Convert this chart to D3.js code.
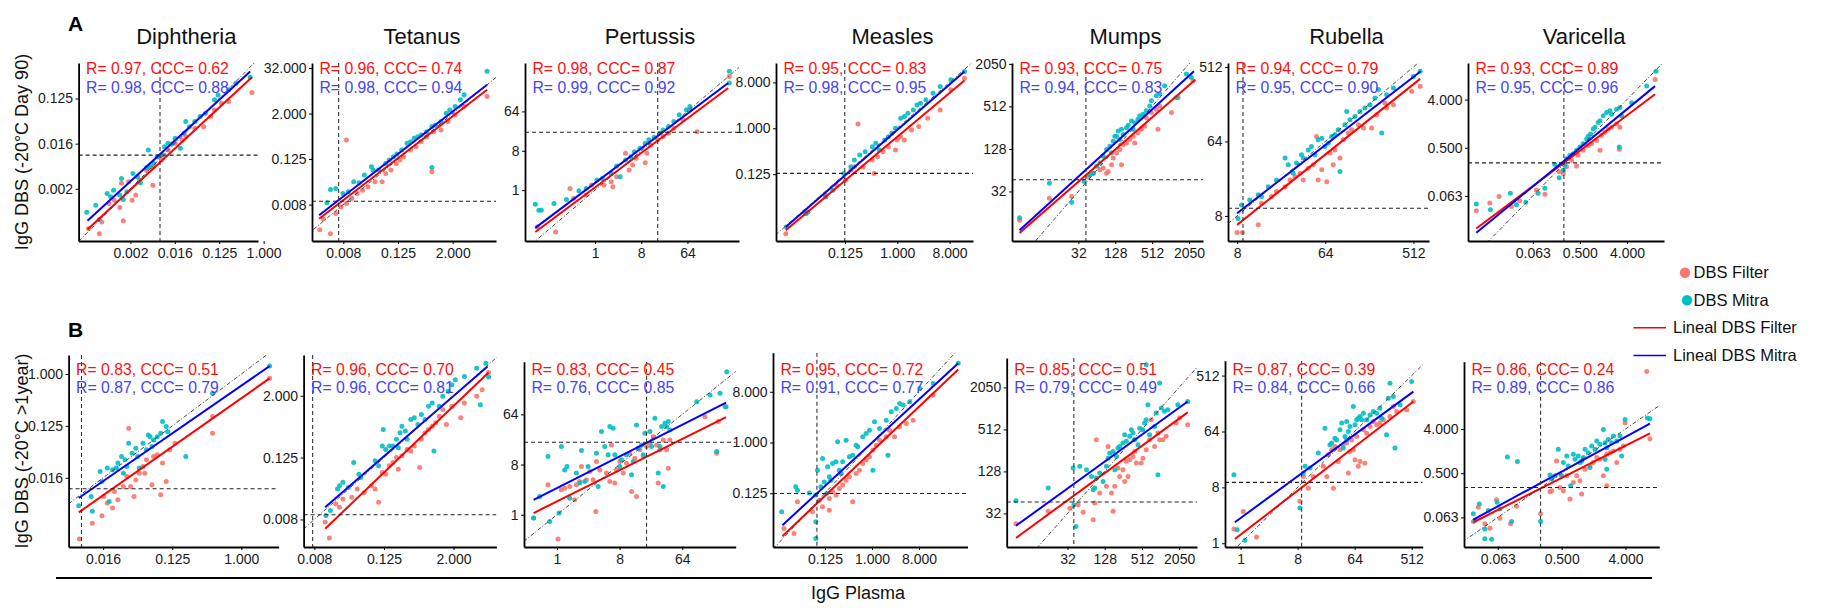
<!DOCTYPE html>
<html>
<head>
<meta charset="utf-8">
<script src="https://cdn.jsdelivr.net/npm/d3@7"></script>
<style>
body{margin:0;background:#fff;}
text{font-family:"Liberation Sans",Arial,sans-serif;}
</style>
</head>
<body>
<svg id="fig" width="1822" height="608"></svg>
<script>
/*
IgG plasma vs IgG DBS, 7 antigens, two storage conditions.
all values are log2(IgG): [plasma, DBS]
 */

var antigens=["Diphtheria","Tetanus","Pertussis","Measles","Mumps","Rubella","Varicella"];
var rowTags=["A","B"];
var rowYTitles=["IgG DBS (-20\u00B0C Day 90)","IgG DBS (-20\u00B0C >1year)"];
var xTitle="IgG Plasma";
var seriesNames=["DBS Filter","DBS Mitra"];
var lineNames=["Lineal DBS Filter","Lineal DBS Mitra"];

// tick positions (log2) and printed labels
var xTicksA=[[-9,-6,-3,0],[-7,-3,1],[0,3,6],[-3,0,3],[5,7,9,11],[3,6,9],[-4,-1,2]];
var yTicksA=[[-9,-6,-3],[-7,-3,1,5],[0,3,6],[-3,0,3],[5,7,9,11],[3,6,9],[-4,-1,2]];
var xTicksB=[[-6,-3,0],[-7,-3,1],[0,3,6],[-3,0,3],[5,7,9,11],[0,3,6,9],[-4,-1,2]];
var yTicksB=[[-6,-3,0],[-7,-3,1],[0,3,6],[-3,0,3],[5,7,9,11],[0,3,6,9],[-4,-1,2]];
var decLabels={"-9":"0.002","-7":"0.008","-6":"0.016","-4":"0.063","-3":"0.125","-1":"0.500","0":"1.000","1":"2.000","2":"4.000","3":"8.000","5":"32.000"};
var intLabels={"0":"1","3":"8","5":"32","6":"64","7":"128","9":"512","11":"2050"};
var integerStyle=[false,false,true,false,true,true,false];

// axis limits (log2)
var xDomA=[[-12.5,-0.38],[-9.29,4.17],[-4.55,9.35],[-6.95,4.34],[1.4,11.76],[2.69,9.53],[-8.13,4.36]];
var yDomA=[[-12.47,-0.64],[-10.2,5.44],[-3.88,9.69],[-7.37,4.27],[2.67,11.04],[1.99,9.16],[-6.81,4.28]];
var xDomB=[[-7.5,1.62],[-7.62,3.46],[-1.58,8.56],[-6.31,6.09],[1.73,11.96],[-0.82,9.58],[-5.59,3.59]];
var yDomB=[[-10.0,1.1],[-8.78,3.63],[-1.93,9.15],[-6.18,5.31],[3.4,12.4],[-0.2,9.8],[-6.01,6.57]];

// positivity cut-offs [plasma, DBS]
var cutA=[[-7.0,-6.76],[-7.34,-6.71],[4.07,4.41],[-3.01,-2.95],[5.41,5.55],[3.2,3.31],[-2.02,-1.94]];
var cutB=[[-6.94,-6.63],[-7.1,-6.7],[4.29,4.33],[-3.51,-3.02],[5.34,5.54],[3.21,3.27],[-1.99,-1.97]];

// fitted lines [x1,y1,x2,y2]
var fitA_filter=[[-11.9,-11.7,-0.79,-1.58],[-8.77,-8.24,3.52,3.09],[-3.88,-3.19,8.65,7.78],[-6.39,-6.67,3.85,3.13],[1.81,3.05,11.34,10.25],[3.0,2.64,9.23,8.52],[-7.6,-6.03,3.79,2.33]];
var fitA_mitra=[[-11.9,-11.13,-0.91,-1.2],[-8.77,-7.94,3.52,3.53],[-3.88,-2.88,8.65,8.16],[-6.39,-6.46,3.85,3.72],[1.81,3.18,11.27,10.65],[3.0,3.11,9.25,8.83],[-7.6,-6.3,3.79,2.84]];
var fitB_filter=[[-7.06,-8.0,1.23,-0.25],[-6.38,-7.6,3.01,2.5],[-1.12,0.1,8.1,5.83],[-5.71,-5.54,5.5,4.32],[2.23,3.83,11.46,9.81],[-0.3,0.23,9.09,7.61],[-5.15,-4.33,3.15,1.7]];
var fitB_mitra=[[-7.06,-7.17,1.23,0.46],[-6.38,-6.21,2.95,2.88],[-1.12,0.89,8.1,6.7],[-5.71,-4.89,5.5,4.68],[2.23,4.41,11.46,10.33],[-0.3,1.13,9.09,8.14],[-5.15,-4.15,3.15,2.37]];

var statsA_filter=["R= 0.97, CCC= 0.62","R= 0.96, CCC= 0.74","R= 0.98, CCC= 0.87","R= 0.95, CCC= 0.83","R= 0.93, CCC= 0.75","R= 0.94, CCC= 0.79","R= 0.93, CCC= 0.89"];
var statsA_mitra=["R= 0.98, CCC= 0.88","R= 0.98, CCC= 0.94","R= 0.99, CCC= 0.92","R= 0.98, CCC= 0.95","R= 0.94, CCC= 0.83","R= 0.95, CCC= 0.90","R= 0.95, CCC= 0.96"];
var statsB_filter=["R= 0.83, CCC= 0.51","R= 0.96, CCC= 0.70","R= 0.83, CCC= 0.45","R= 0.95, CCC= 0.72","R= 0.85, CCC= 0.51","R= 0.87, CCC= 0.39","R= 0.86, CCC= 0.24"];
var statsB_mitra=["R= 0.87, CCC= 0.79","R= 0.96, CCC= 0.81","R= 0.76, CCC= 0.85","R= 0.91, CCC= 0.77","R= 0.79, CCC= 0.49","R= 0.84, CCC= 0.66","R= 0.89, CCC= 0.86"];

// ---- points, row A (Day 90) ----
var diphA_filter=[[-11.83,-11.64],[-11.1,-11.98],[-10.93,-11.2],[-10.45,-9.98],[-10.09,-9.76],[-9.72,-10.24],[-9.6,-8.64],[-9.48,-11.13],[-9.12,-8.53],[-8.88,-9.76],[-8.64,-9.42],[-8.4,-8.42],[-7.91,-7.76],[-7.48,-8.76],[-7.43,-7.53],[-7.07,-6.87],[-6.9,-7.09],[-6.46,-6.42],[-5.98,-5.98],[-5.5,-5.76],[-5.26,-5.53],[-4.65,-4.98],[-4.05,-4.87],[-3.57,-4.2],[-3.32,-3.76],[-2.84,-3.31],[-2.36,-3.2],[-0.79,-2.6]];
var diphA_mitra=[[-11.95,-10.56],[-11.34,-10.09],[-11.1,-11.04],[-10.57,-9.31],[-10.33,-9.53],[-10.14,-9.09],[-9.72,-9.42],[-9.6,-8.31],[-9.48,-9.71],[-9.24,-9.2],[-8.83,-7.98],[-8.52,-8.2],[-8.32,-8.6],[-7.91,-7.58],[-7.79,-6.42],[-7.67,-7.53],[-7.43,-7.31],[-7.19,-6.87],[-6.83,-6.76],[-6.7,-6.2],[-6.46,-5.98],[-6.22,-6.02],[-5.98,-5.64],[-5.62,-6.31],[-5.38,-5.31],[-5.26,-4.53],[-5.01,-4.87],[-4.65,-4.53],[-4.29,-4.2],[-3.93,-3.98],[-3.32,-3.09],[-3.08,-2.76],[-2.36,-2.42],[-1.87,-1.98],[-0.91,-1.58]];
var tetA_filter=[[-8.72,-9.21],[-7.94,-9.56],[-8.46,-8.24],[-7.55,-7.79],[-7.16,-7.21],[-6.77,-6.91],[-6.38,-6.47],[-5.98,-6.03],[-5.59,-5.74],[-5.2,-5.44],[-4.68,-5.0],[-4.16,-5.0],[-3.9,-4.26],[-3.51,-3.97],[-3.12,-3.38],[-2.86,-3.09],[-2.6,-2.79],[-2.08,-2.21],[-1.69,-1.91],[-1.3,-1.47],[-0.91,-1.03],[-0.39,-0.59],[0.14,-0.44],[0.66,0.29],[1.18,0.88],[1.83,1.62],[3.52,2.5],[-6.77,-1.32],[-0.52,-4.12]];
var tetA_mitra=[[-7.94,-5.68],[-7.55,-5.59],[-8.2,-6.85],[-7.03,-6.03],[-6.64,-5.88],[-6.24,-5.0],[-5.85,-5.09],[-5.46,-4.41],[-4.94,-3.68],[-4.81,-3.97],[-4.42,-3.97],[-3.9,-3.38],[-3.64,-3.09],[-3.34,-2.79],[-3.08,-2.56],[-2.73,-2.21],[-2.34,-1.62],[-2.08,-1.47],[-1.82,-1.18],[-1.56,-1.03],[-1.3,-0.88],[-0.91,-0.59],[-0.52,-0.15],[-0.26,0.0],[0.14,0.29],[0.53,1.03],[0.79,1.32],[1.18,1.62],[1.57,2.21],[1.83,2.65],[3.52,4.71],[-0.52,-3.74]];
var pertA_filter=[[-3.76,-2.81],[-2.56,-3.19],[-1.63,0.13],[-1.4,-0.64],[-0.58,-0.38],[-0.23,0.38],[0.58,0.38],[1.05,0.64],[1.16,0.26],[1.4,1.02],[1.98,2.81],[2.21,1.53],[2.44,1.91],[2.67,2.42],[3.26,2.09],[3.37,2.81],[3.6,3.44],[4.07,3.83],[4.42,4.08],[4.77,4.34],[5.12,4.72],[5.7,5.36],[6.16,6.12],[6.63,4.44],[8.72,8.67]];
var pertA_mitra=[[-3.88,-1.07],[-3.65,-1.53],[-3.49,-1.53],[-2.67,-1.02],[-1.86,-0.71],[-1.05,-0.05],[-0.58,0.13],[0.12,0.77],[0.47,0.89],[1.05,1.28],[1.4,1.84],[1.63,1.02],[1.98,2.3],[2.33,2.55],[2.56,2.93],[2.91,3.19],[3.26,3.57],[3.49,3.83],[3.84,4.03],[4.19,4.34],[4.42,4.59],[4.77,4.85],[5.12,5.23],[5.47,5.74],[5.93,6.12],[6.16,6.38],[8.72,9.06],[8.72,8.16]];
var measA_filter=[[-6.39,-6.89],[-5.33,-5.47],[-4.1,-4.38],[-3.48,-3.72],[-2.97,-3.39],[-2.66,-2.74],[-2.46,-2.52],[-1.95,-2.52],[-1.33,-2.95],[-1.43,-2.08],[-1.13,-1.86],[-0.82,-1.53],[-0.51,-1.2],[-0.1,-1.42],[0.0,-0.77],[0.2,-0.55],[0.41,-0.77],[0.82,-0.11],[1.23,0.11],[1.74,0.66],[2.46,1.2],[3.07,2.52],[3.85,3.28],[-2.25,0.28]];
var measA_mitra=[[-6.35,-6.46],[-5.23,-5.58],[-5.12,-5.47],[-4.1,-4.49],[-3.69,-4.05],[-3.07,-2.95],[-2.66,-2.52],[-2.46,-2.08],[-2.15,-1.75],[-1.84,-1.53],[-1.43,-1.2],[-1.23,-0.98],[-1.02,-1.42],[-0.72,-0.77],[-0.51,-0.55],[-0.31,-0.33],[-0.1,0.0],[0.2,0.66],[0.41,0.77],[0.61,0.98],[0.92,1.2],[1.13,1.53],[1.33,1.64],[1.64,1.86],[2.05,2.3],[2.46,2.74],[3.07,3.17],[3.85,3.72]];
var mumpsA_filter=[[1.81,3.65],[3.43,4.68],[4.64,4.76],[5.54,5.7],[5.81,5.86],[6.17,6.02],[6.35,6.1],[6.53,5.86],[6.62,5.94],[6.8,6.26],[6.89,6.57],[7.07,6.81],[7.25,6.97],[7.43,7.21],[7.61,7.28],[7.79,7.44],[7.97,7.6],[8.06,7.28],[8.24,7.76],[8.42,7.92],[8.6,8.07],[8.69,8.47],[8.96,8.71],[9.23,8.86],[9.41,9.02],[9.32,7.92],[10.05,8.71],[10.41,9.42],[11.22,10.21],[7.34,6.26]];
var mumpsA_mitra=[[1.81,3.76],[3.43,5.39],[4.64,4.49],[5.31,5.47],[5.63,5.78],[5.81,5.86],[5.99,6.18],[6.17,6.34],[6.35,6.65],[6.53,6.97],[6.71,7.13],[6.89,7.36],[7.07,7.6],[7.16,7.84],[7.34,7.92],[7.43,7.68],[7.61,8.0],[7.7,8.11],[7.88,8.31],[8.06,8.23],[8.24,8.39],[8.33,8.55],[8.51,8.63],[8.69,8.79],[8.87,9.02],[8.96,9.26],[9.23,9.5],[9.41,9.58],[9.68,9.97],[10.32,9.42],[10.86,10.52],[11.13,10.36],[6.98,7.6],[6.8,6.81],[7.25,7.44],[7.97,7.92]];
var rubA_filter=[[3.0,2.33],[3.18,2.33],[3.72,2.64],[3.83,3.51],[4.17,3.78],[4.34,3.98],[4.63,4.18],[4.8,4.45],[4.97,4.59],[5.14,4.72],[5.25,4.45],[5.42,4.92],[5.59,5.06],[5.7,6.2],[5.76,4.45],[5.88,4.86],[6.05,4.38],[6.16,5.53],[6.33,5.66],[6.5,5.33],[6.61,6.07],[6.78,6.34],[6.9,6.47],[7.13,6.67],[7.3,6.54],[7.58,6.54],[7.75,7.08],[8.09,7.35],[8.32,7.48],[8.94,8.02],[9.23,8.22],[8.03,7.55],[6.27,5.06]];
var rubA_mitra=[[3.03,2.9],[3.15,3.44],[3.43,3.64],[3.72,3.85],[3.83,3.78],[4.06,4.18],[4.34,4.45],[4.63,5.33],[4.74,5.06],[4.91,4.72],[5.02,5.13],[5.19,5.46],[5.25,5.33],[5.42,5.66],[5.53,5.8],[5.65,5.46],[5.76,6.07],[5.88,6.13],[5.99,5.8],[6.1,5.93],[6.22,6.2],[6.33,6.27],[6.44,6.47],[6.5,4.79],[6.67,6.67],[6.73,7.21],[6.84,6.87],[7.01,7.01],[7.18,7.21],[7.35,7.35],[7.52,7.48],[7.69,7.75],[7.81,8.09],[7.92,6.34],[8.09,7.88],[8.32,8.15],[9.0,8.62],[9.23,8.83]];
var varA_filter=[[-7.6,-4.92],[-6.74,-4.45],[-6.15,-4.04],[-5.36,-4.66],[-4.83,-4.31],[-3.77,-3.63],[-3.23,-3.9],[-2.32,-2.5],[-2.06,-2.6],[-1.85,-2.19],[-1.53,-1.78],[-1.21,-2.13],[-1.11,-1.47],[-0.79,-1.16],[-0.47,-0.86],[-0.26,-0.75],[0.06,-0.55],[0.28,-1.16],[0.38,-0.24],[0.6,-0.03],[0.81,0.17],[1.02,0.27],[1.34,0.48],[1.55,0.27],[1.51,-1.1],[3.79,3.25]];
var varA_mitra=[[-7.6,-4.51],[-6.7,-4.86],[-5.43,-3.83],[-5.04,-4.55],[-4.45,-4.39],[-3.66,-3.83],[-3.23,-3.53],[-2.6,-2.05],[-2.32,-2.87],[-2.06,-2.4],[-1.96,-2.09],[-1.85,-1.68],[-1.64,-1.47],[-1.43,-1.37],[-1.21,-1.16],[-1.0,-0.96],[-0.79,-0.75],[-0.57,-0.45],[-0.47,-0.28],[-0.32,-0.14],[-0.15,0.17],[-0.04,0.27],[0.17,0.58],[0.28,0.68],[0.49,0.99],[0.7,1.2],[0.91,1.3],[1.02,1.09],[1.34,1.4],[1.55,1.51],[1.66,0.99],[1.51,-0.96],[2.3,1.81],[3.26,2.84],[3.85,3.76]];

// ---- points, row B (>1 year) ----
var diphB_filter=[[-7.03,-9.54],[-6.47,-8.62],[-6.05,-8.19],[-5.98,-7.08],[-5.82,-7.46],[-5.59,-7.75],[-5.51,-6.79],[-5.36,-7.27],[-5.12,-6.5],[-4.97,-5.92],[-4.89,-3.13],[-4.81,-6.5],[-4.66,-7.08],[-4.58,-6.12],[-4.43,-5.73],[-4.27,-5.35],[-4.19,-5.73],[-4.12,-4.96],[-3.88,-6.4],[-3.81,-4.77],[-3.65,-4.67],[-3.5,-6.98],[-3.42,-5.15],[-3.26,-6.21],[-3.11,-4.38],[-2.88,-4.0],[-1.25,-3.42],[-1.25,-2.46],[1.23,-0.25]];
var diphB_mitra=[[-7.06,-7.62],[-6.47,-7.94],[-6.52,-7.08],[-6.13,-5.63],[-6.05,-6.21],[-5.82,-5.44],[-5.74,-7.37],[-5.59,-5.54],[-5.43,-5.44],[-5.36,-5.15],[-5.2,-4.77],[-5.12,-5.73],[-5.05,-4.96],[-4.97,-5.35],[-4.89,-4.0],[-4.74,-4.58],[-4.58,-4.29],[-4.5,-4.77],[-4.43,-5.44],[-4.27,-4.0],[-4.12,-4.38],[-4.04,-3.52],[-3.96,-3.62],[-3.88,-4.19],[-3.81,-3.81],[-3.65,-3.62],[-3.5,-3.42],[-3.42,-2.75],[-3.26,-3.04],[-3.19,-3.33],[-2.41,-4.77],[-1.25,-1.12],[1.23,0.46]];
var tetB_filter=[[-6.38,-7.17],[-6.14,-8.2],[-5.77,-6.0],[-5.56,-6.21],[-5.36,-5.67],[-4.85,-5.57],[-4.54,-5.03],[-4.13,-5.25],[-3.72,-4.82],[-3.51,-5.03],[-3.31,-5.89],[-3.1,-3.96],[-2.9,-4.07],[-2.69,-3.53],[-2.49,-3.32],[-2.28,-3.0],[-2.18,-3.75],[-1.97,-2.89],[-1.67,-2.47],[-1.46,-2.57],[-1.26,-2.25],[-0.95,-3.64],[-0.85,-1.82],[-0.64,-1.4],[-0.44,-1.18],[-0.23,-0.97],[-0.03,-0.75],[0.18,-0.33],[0.38,0.1],[0.59,-0.86],[0.9,0.32],[1.41,-0.43],[1.62,0.53],[2.33,0.96],[2.64,1.39],[3.01,2.5]];
var tetB_mitra=[[-6.34,-6.74],[-6.08,-6.42],[-5.67,-5.03],[-5.56,-4.82],[-5.36,-4.6],[-5.05,-4.93],[-4.74,-3.32],[-4.44,-4.07],[-4.33,-4.28],[-3.51,-3.21],[-3.31,-3.53],[-3.1,-2.25],[-3.04,-1.18],[-2.9,-2.47],[-2.69,-2.25],[-2.49,-2.25],[-2.28,-1.82],[-2.18,-2.36],[-2.08,-1.4],[-1.97,-0.97],[-1.77,-1.29],[-1.67,-1.82],[-1.46,-0.54],[-1.26,-0.43],[-1.05,-0.86],[-0.85,-0.22],[-0.64,-0.54],[-0.44,0.32],[-0.23,0.53],[-0.13,-2.57],[0.18,0.32],[0.38,0.96],[0.69,1.28],[0.9,1.71],[1.1,2.03],[1.62,2.24],[2.33,2.78],[2.54,0.42],[2.85,3.1],[3.01,2.2]];
var pertB_filter=[[-1.12,-0.2],[-0.43,1.79],[0.05,-1.45],[0.21,1.49],[0.37,1.59],[0.61,1.69],[0.85,0.89],[0.93,1.79],[1.09,1.99],[1.17,2.88],[1.41,2.09],[1.57,2.58],[1.73,2.09],[1.86,0.2],[1.89,3.18],[2.05,2.68],[2.37,2.49],[2.53,1.99],[2.61,4.17],[2.77,1.89],[2.85,2.68],[3.01,3.18],[3.17,2.49],[3.33,3.08],[3.49,3.68],[3.57,1.39],[3.73,3.38],[3.81,1.09],[3.97,3.88],[4.13,3.48],[4.29,4.08],[4.45,4.27],[4.61,4.67],[4.77,4.17],[4.85,1.89],[4.93,3.88],[5.09,4.47],[5.25,3.88],[5.33,2.78],[5.41,4.47],[7.09,5.86],[7.65,3.68],[7.73,5.57],[8.05,6.46]];
var pertB_mitra=[[-1.12,-0.2],[-0.83,1.09],[-0.43,3.48],[-0.35,-0.4],[0.1,0.1],[0.21,4.08],[0.37,2.68],[0.48,2.88],[0.61,0.99],[0.93,2.49],[1.09,1.89],[1.17,3.84],[1.33,1.99],[1.49,2.88],[1.89,3.68],[1.97,1.69],[2.13,4.97],[2.29,4.08],[2.45,3.58],[2.53,5.27],[2.69,5.17],[2.77,3.58],[3.01,2.88],[3.09,3.28],[3.33,3.58],[3.57,2.39],[3.65,3.18],[3.81,5.37],[3.89,3.98],[4.05,4.17],[4.13,3.58],[4.21,4.87],[4.45,4.97],[4.53,4.08],[4.69,5.77],[4.85,2.49],[4.93,4.08],[5.01,5.27],[5.09,1.69],[5.17,5.47],[5.25,5.27],[5.33,5.57],[5.41,5.07],[6.69,6.76],[7.33,7.16],[7.65,3.78],[7.81,7.26],[8.13,8.55],[8.1,6.46]];
var measB_filter=[[-5.61,-5.09],[-4.97,-5.38],[-4.75,-3.51],[-3.79,-4.1],[-3.36,-3.41],[-3.15,-3.8],[-2.72,-3.31],[-2.51,-2.92],[-2.29,-3.11],[-2.08,-2.72],[-1.87,-2.52],[-1.65,-2.23],[-1.44,-2.03],[-1.23,-3.51],[-1.01,-1.83],[-0.8,-1.64],[-0.59,-1.24],[-0.37,-1.04],[-0.16,-0.85],[0.06,-0.45],[0.27,-0.16],[0.48,0.14],[0.91,0.34],[1.12,0.73],[1.44,0.34],[1.76,0.93],[2.19,1.13],[2.62,1.32],[3.9,2.8],[-2.72,-4.0]];
var measB_mitra=[[-5.76,-4.1],[-4.86,-2.62],[-4.75,-2.82],[-4.0,-2.98],[-3.58,-3.11],[-3.47,-1.64],[-3.26,-2.62],[-3.15,-0.94],[-3.04,-2.33],[-2.89,-3.02],[-2.83,-1.44],[-2.72,-2.03],[-2.62,-2.23],[-2.51,-1.24],[-2.29,-1.14],[-2.19,0.04],[-2.08,-1.64],[-1.97,-1.83],[-1.87,-1.14],[-1.65,0.14],[-1.44,-0.85],[-1.23,-0.75],[-1.01,-0.16],[-0.91,-0.25],[-0.59,0.34],[-0.37,0.53],[-0.16,0.73],[0.06,-1.64],[0.16,1.22],[0.48,0.83],[0.91,1.32],[1.02,-0.75],[1.23,1.82],[1.55,2.01],[1.76,2.31],[1.98,2.21],[2.41,2.41],[3.05,3.2],[3.9,3.49],[5.5,4.68],[-3.58,-4.69],[-3.58,-5.68]];
var mumpsB_filter=[[2.23,4.51],[3.96,5.1],[5.13,5.25],[5.57,5.41],[5.84,5.05],[6.38,4.7],[6.46,5.49],[6.55,8.51],[6.73,5.97],[7.09,6.29],[7.18,8.19],[7.36,5.97],[7.54,6.29],[7.71,7.16],[7.8,6.76],[7.98,7.08],[8.07,6.52],[8.16,7.48],[8.25,6.76],[8.34,7.56],[8.52,7.71],[8.61,7.95],[8.7,7.4],[8.96,7.4],[9.05,7.63],[9.23,8.03],[9.41,8.51],[9.5,9.46],[9.68,8.19],[9.86,8.83],[9.95,8.51],[10.13,8.51],[10.3,8.67],[10.84,9.3],[11.02,9.54],[11.46,9.22],[7.45,5.1]];
var mumpsB_mitra=[[2.23,5.6],[3.96,6.21],[5.3,7.16],[5.34,5.41],[5.45,4.38],[5.66,7.24],[6.02,7.08],[6.29,6.76],[6.38,6.13],[6.46,6.21],[6.55,6.68],[6.73,6.92],[6.91,6.52],[7.09,7.24],[7.18,7.63],[7.27,7.87],[7.45,7.95],[7.54,7.08],[7.63,7.71],[7.71,8.11],[7.8,8.19],[7.98,8.35],[8.07,8.75],[8.16,8.43],[8.34,8.67],[8.43,8.98],[8.52,8.83],[8.61,8.51],[8.79,8.27],[8.88,9.06],[9.05,8.98],[9.14,9.3],[9.23,9.46],[9.32,10.17],[9.41,8.75],[9.68,9.14],[9.77,9.78],[9.86,6.84],[10.04,10.02],[10.21,9.86],[10.39,9.94],[10.93,10.17],[11.46,10.33],[9.23,12.08],[9.95,11.21]];
var rubB_filter=[[-0.35,0.77],[0.14,1.71],[0.84,0.34],[3.12,2.25],[3.3,3.59],[3.56,2.96],[3.82,3.59],[4.35,4.13],[4.53,3.59],[4.61,4.75],[4.79,5.02],[4.96,5.2],[5.14,4.39],[5.23,5.02],[5.4,5.29],[5.58,5.38],[5.67,3.77],[5.75,4.93],[5.84,5.55],[5.93,5.02],[6.02,4.48],[6.11,5.73],[6.19,4.13],[6.28,4.39],[6.46,6.09],[6.63,5.91],[6.81,6.27],[6.98,6.54],[7.16,6.36],[7.33,6.45],[7.51,6.63],[7.86,6.8],[8.04,7.34],[8.21,7.07],[8.74,7.16],[9.09,7.61],[4.88,2.96],[6.54,4.3]];
var rubB_mitra=[[-0.35,3.68],[-0.18,0.73],[0.23,0.16],[3.12,1.89],[3.3,3.77],[3.39,4.13],[3.65,4.04],[4.09,4.84],[4.44,6.18],[4.7,5.29],[4.79,5.38],[4.96,5.64],[5.05,5.55],[5.23,6.09],[5.32,6.45],[5.4,5.11],[5.49,5.73],[5.58,5.55],[5.67,6.0],[5.75,6.27],[5.93,7.34],[6.02,6.36],[6.11,6.63],[6.19,6.71],[6.28,6.8],[6.37,6.63],[6.46,6.98],[6.63,6.63],[6.81,6.89],[6.98,7.07],[7.16,6.98],[7.33,7.25],[7.42,6.71],[7.68,5.82],[7.77,7.79],[7.86,8.59],[8.04,7.88],[8.12,5.11],[8.39,7.43],[9.0,8.68],[5.58,6.54]];
var varB_filter=[[-5.15,-4.28],[-4.92,-3.31],[-4.61,-4.44],[-4.37,-4.73],[-4.06,-2.8],[-3.9,-4.06],[-3.4,-4.44],[-3.12,-3.25],[-1.99,-3.76],[-1.55,-2.26],[-1.47,-2.19],[-1.24,-0.17],[-1.08,-1.97],[-0.92,-2.19],[-0.76,-1.18],[-0.61,-2.75],[-0.45,-1.63],[-0.29,-1.18],[-0.14,-1.52],[-0.06,-2.42],[0.1,-0.73],[0.33,-0.51],[0.49,-0.28],[0.65,0.06],[0.8,-0.06],[0.96,-1.18],[1.12,0.28],[1.27,0.39],[1.43,0.51],[1.59,-0.28],[1.74,0.62],[1.9,0.84],[1.98,2.42],[3.0,5.9],[3.15,1.34],[1.12,-1.85]];
var varB_mitra=[[-5.15,-3.76],[-5.08,-4.21],[-4.87,-3.09],[-4.61,-4.78],[-4.61,-5.45],[-4.45,-3.54],[-4.29,-5.49],[-4.03,-2.98],[-3.9,-3.43],[-3.55,0.1],[-3.35,-4.28],[-3.08,-0.21],[-1.99,-4.28],[-1.55,-1.13],[-1.47,-1.4],[-1.31,-1.18],[-1.16,0.62],[-1.0,-1.18],[-0.92,-0.28],[-0.76,0.17],[-0.69,-0.51],[-0.58,-1.85],[-0.45,0.28],[-0.37,-0.06],[-0.22,0.17],[-0.14,-0.28],[-0.06,-0.17],[0.02,0.06],[0.1,0.62],[0.25,0.39],[0.33,-0.62],[0.41,0.84],[0.57,0.62],[0.65,1.18],[0.8,0.96],[0.96,1.97],[1.04,1.07],[1.12,0.73],[1.19,1.29],[1.35,1.07],[1.43,1.52],[1.59,1.18],[1.74,1.52],[1.82,0.17],[1.98,2.64],[3.03,2.75],[3.15,2.69],[1.12,-0.73],[1.04,-0.06]];

var colFilter="#F8766D", colMitra="#00BFC4";
var colFitFilter="#FF0000", colFitMitra="#0000FF";
var colTxtFilter="#FF1010", colTxtMitra="#4545F5";

// panel boxes on the page
var space={
    A:{xs:[[78.6,258],[312,496],[525,739],[776,973],[1012,1203],[1228,1429],[1468,1664]],
       tops:[63,63,63,63,63,63,63],bottom:241,statY:[68.5,87],tag:[75.5,23.5],yTitleY:152},
    B:{xs:[[68.6,278.6],[303.6,496.4],[524,735.7],[773,967.5],[1006.7,1197],[1225,1422.7],[1464,1659.3]],
       tops:[355,355,361.7,352.7,358,360.7,361.7],bottom:547,statY:[369,387.5],tag:[75.5,329.5],yTitleY:451}
};

var svg=d3.select("#fig");

function buildRow(row) {
    var isA=row==="A";
    var filt=isA?[diphA_filter,tetA_filter,pertA_filter,measA_filter,mumpsA_filter,rubA_filter,varA_filter]
                :[diphB_filter,tetB_filter,pertB_filter,measB_filter,mumpsB_filter,rubB_filter,varB_filter];
    var mitr=isA?[diphA_mitra,tetA_mitra,pertA_mitra,measA_mitra,mumpsA_mitra,rubA_mitra,varA_mitra]
                :[diphB_mitra,tetB_mitra,pertB_mitra,measB_mitra,mumpsB_mitra,rubB_mitra,varB_mitra];
    return antigens.map(function (name,i) {
        return {
            id:row+i, name:name, i:i, showTitle:isA,
            xd:(isA?xDomA:xDomB)[i], yd:(isA?yDomA:yDomB)[i],
            xt:(isA?xTicksA:xTicksB)[i], yt:(isA?yTicksA:yTicksB)[i],
            cut:(isA?cutA:cutB)[i],
            fitF:(isA?fitA_filter:fitB_filter)[i], fitM:(isA?fitA_mitra:fitB_mitra)[i],
            stF:(isA?statsA_filter:statsB_filter)[i], stM:(isA?statsA_mitra:statsB_mitra)[i],
            ptsF:filt[i], ptsM:mitr[i],
            x0:space[row].xs[i][0], x1:space[row].xs[i][1],
            top:space[row].tops[i], bottom:space[row].bottom, statY:space[row].statY
        };
    });
}

function tickFmt(i) {
    var map=integerStyle[i]?intLabels:decLabels;
    return function (d) { return map[String(d)]; };
}

function drawPanel(p) {
    var g=svg.append("g").attr("id","panel_"+p.id);
    var x=d3.scaleLinear().domain(p.xd).range([p.x0,p.x1]);
    var y=d3.scaleLinear().domain(p.yd).range([p.bottom,p.top]);

    g.append("clipPath").attr("id","clip_"+p.id)
        .append("rect").attr("x",p.x0).attr("y",p.top)
        .attr("width",p.x1-p.x0).attr("height",p.bottom-p.top);
    var inner=g.append("g").attr("clip-path","url(#clip_"+p.id+")");

    //points
    inner.append("g").selectAll("circle").data(p.ptsF).enter().append("circle")
        .attr("cx",function (d) {return x(d[0])}).attr("cy",function (d) {return y(d[1])})
        .attr("r",2.5).attr("fill",colFilter).attr("opacity",0.9);
    inner.append("g").selectAll("circle").data(p.ptsM).enter().append("circle")
        .attr("cx",function (d) {return x(d[0])}).attr("cy",function (d) {return y(d[1])})
        .attr("r",2.5).attr("fill",colMitra).attr("opacity",0.9);

    //fitted lines
    [[p.fitF,colFitFilter],[p.fitM,colFitMitra]].forEach(function (f) {
        inner.append("line")
            .attr("x1",x(f[0][0])).attr("y1",y(f[0][1]))
            .attr("x2",x(f[0][2])).attr("y2",y(f[0][3]))
            .attr("stroke",f[1]).attr("stroke-width",2);
    });

    //identity line
    var lo=Math.min(p.xd[0],p.yd[0]), hi=Math.max(p.xd[1],p.yd[1]);
    inner.append("line")
        .attr("x1",x(lo)).attr("y1",y(lo)).attr("x2",x(hi)).attr("y2",y(hi))
        .attr("stroke","#333").attr("stroke-width",0.9).attr("stroke-dasharray","4,2,1,2");

    //cut-offs
    inner.append("line")
        .attr("x1",x(p.cut[0])).attr("x2",x(p.cut[0])).attr("y1",p.top).attr("y2",p.bottom)
        .attr("stroke","#333").attr("stroke-width",1.1).attr("stroke-dasharray","4,3");
    inner.append("line")
        .attr("x1",p.x0).attr("x2",p.x1).attr("y1",y(p.cut[1])).attr("y2",y(p.cut[1]))
        .attr("stroke","#222").attr("stroke-width",1.1).attr("stroke-dasharray","4,3");

    //axes
    var fmt=tickFmt(p.i);
    var xAxis=g.append("g").attr("transform","translate(0,"+p.bottom+")")
        .call(d3.axisBottom(x).tickValues(p.xt).tickFormat(fmt).tickSize(3).tickSizeOuter(0).tickPadding(4));
    var yAxis=g.append("g").attr("transform","translate("+p.x0+",0)")
        .call(d3.axisLeft(y).tickValues(p.yt).tickFormat(fmt).tickSize(3).tickSizeOuter(0).tickPadding(2.5));
    [xAxis,yAxis].forEach(function (a) {
        a.attr("font-family",null).attr("font-size",null);
        a.select(".domain").attr("stroke","#000").attr("stroke-width",1.8);
        a.selectAll(".tick line").attr("stroke","#000").attr("stroke-width",1);
        a.selectAll(".tick text").attr("fill","#1a1a1a").style("font-size","14px");
    });

    //stats
    g.append("text").attr("x",p.x0+7.5).attr("y",p.statY[0]).attr("dy","0.35em")
        .attr("fill",colTxtFilter).style("font-size","15.75px").text(p.stF);
    g.append("text").attr("x",p.x0+7.5).attr("y",p.statY[1]).attr("dy","0.35em")
        .attr("fill",colTxtMitra).style("font-size","15.75px").text(p.stM);

    if(p.showTitle){
        g.append("text").attr("x",(p.x0+p.x1)/2+18).attr("y",36).attr("dy","0.35em")
            .attr("text-anchor","middle").attr("fill","#111").style("font-size","22px").text(p.name);
    }
}

rowTags.forEach(function (row,r) {
    buildRow(row).forEach(drawPanel);
    svg.append("text").attr("x",space[row].tag[0]).attr("y",space[row].tag[1]).attr("dy","0.35em")
        .attr("text-anchor","middle").style("font-size","21px").style("font-weight","bold").text(row);
    svg.append("text").attr("transform","translate(21.5,"+space[row].yTitleY+") rotate(-90)")
        .attr("dy","0.35em").attr("text-anchor","middle").attr("fill","#111")
        .style("font-size","18px").text(rowYTitles[r]);
});

// shared x title
svg.append("line").attr("x1",56).attr("x2",1652).attr("y1",578).attr("y2",578)
    .attr("stroke","#000").attr("stroke-width",2);
svg.append("text").attr("x",858).attr("y",593).attr("dy","0.35em").attr("text-anchor","middle")
    .attr("fill","#111").style("font-size","18px").text(xTitle);

// legend
var leg=svg.append("g").attr("id","legend");
[[colFilter,272.7,1685],[colMitra,300.3,1687]].forEach(function (d,i) {
    leg.append("circle").attr("cx",d[2]).attr("cy",d[1]).attr("r",5.2).attr("fill",d[0]);
    leg.append("text").attr("x",1693.5).attr("y",d[1]).attr("dy","0.35em")
        .attr("fill","#111").style("font-size","16.5px").text(seriesNames[i]);
});
[[colFitFilter,327.7],[colFitMitra,355.5]].forEach(function (d,i) {
    leg.append("line").attr("x1",1633.5).attr("x2",1666).attr("y1",d[1]).attr("y2",d[1])
        .attr("stroke",d[0]).attr("stroke-width",1.6);
    leg.append("text").attr("x",1673).attr("y",d[1]).attr("dy","0.35em")
        .attr("fill","#111").style("font-size","16.5px").text(lineNames[i]);
});
</script>
